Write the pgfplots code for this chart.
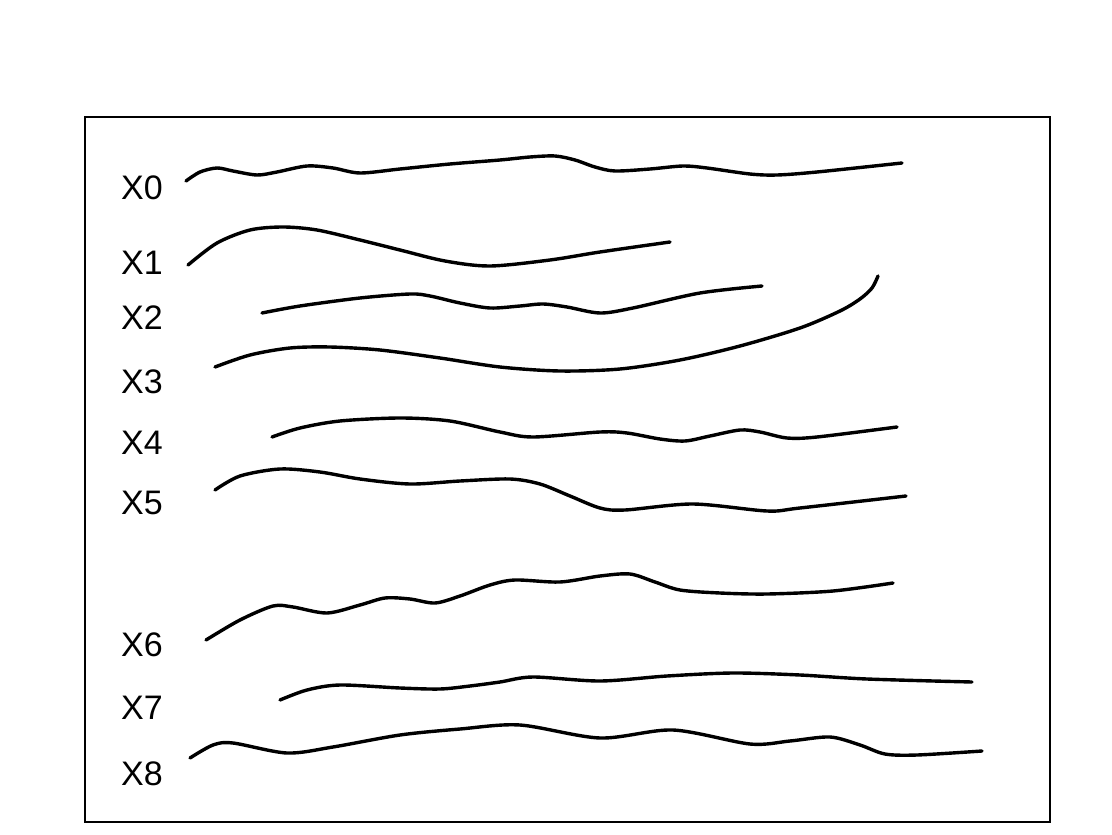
\documentclass[border=0pt]{standalone}
\usepackage{pgfplots}
\pgfplotsset{compat=1.18}
\usepackage{fontspec}
\setmainfont{Liberation Sans}
\tikzset{lab/.style={font=\fontsize{17}{20}\selectfont, anchor=center},
  curve/.style={black, solid, line width=1.7pt, smooth, mark=none, line cap=round}}
\begin{document}
\begin{tikzpicture}
\begin{axis}[
  scale only axis, width=482.5pt, height=352.5pt,
  xmin=85, xmax=1050, ymin=117, ymax=822, y dir=reverse,
  xtick=\empty, ytick=\empty, axis line style={line width=0.9pt},
  clip=false,
]
\path[use as bounding box] (axis cs:0,0) rectangle (axis cs:1112,834);
% X0
\addplot[curve] coordinates {(186,181) (200,172) (217,168) (233,171) (257,175) (277,172) (307,166) (333,168) (360,173) (400,169) (450,164) (500,160) (530,157) (555,156) (575,160) (595,167) (615,171) (650,169) (683,166) (707,168) (750,174) (777,175) (817,172) (902,163)};
% X1
\addplot[curve] coordinates {(188,265) (217,243) (250,230) (283,227) (317,230) (360,240) (400,250) (445,261) (490,266) (550,260) (600,252) (670,242)};
% X2
\addplot[curve] coordinates {(262,313) (300,306) (360,298) (410,294) (430,296) (460,303) (490,308) (520,306) (543,304) (567,307) (600,313) (633,308) (700,293) (762,286)};
% X3
\addplot[curve] coordinates {(215,367) (250,355) (290,348) (330,347) (380,350) (440,358) (500,367) (560,371) (620,369) (680,360) (740,346) (800,328) (840,311) (860,299) (872,288) (878,276)};
% X4
\addplot[curve] coordinates {(272,437) (300,428) (340,421) (400,418) (450,421) (500,432) (533,437) (600,432) (627,433) (660,439) (685,441) (710,436) (740,430) (760,432) (787,438) (817,437) (897,427)};
% X5
\addplot[curve] coordinates {(215,490) (240,476) (280,469) (320,472) (360,479) (410,484) (460,481) (510,479) (540,484) (570,496) (600,508) (625,510) (693,504) (767,511) (800,508) (906,496)};
% X6
\addplot[curve] coordinates {(206,640) (240,620) (273,606) (293,607) (327,613) (360,605) (385,598) (410,599) (435,603) (460,596) (490,585) (515,580) (560,582) (600,576) (630,574) (655,582) (680,590) (720,593) (767,594) (833,591) (893,583)};
% X7
\addplot[curve] coordinates {(280,700) (307,690) (340,685) (400,688) (440,689) (470,686) (500,682) (533,677) (600,681) (667,676) (733,673) (800,675) (867,679) (972,682)};
% X8
\addplot[curve] coordinates {(190,758) (213,745) (233,743) (287,753) (333,747) (400,735) (460,729) (520,725) (600,738) (673,730) (750,744) (790,741) (830,737) (860,745) (885,754) (917,755) (982,751)};
\node[lab] at (axis cs:142,188) {X0};
\node[lab] at (axis cs:142,263) {X1};
\node[lab] at (axis cs:142,318) {X2};
\node[lab] at (axis cs:142,382) {X3};
\node[lab] at (axis cs:142,443) {X4};
\node[lab] at (axis cs:142,503) {X5};
\node[lab] at (axis cs:142,645) {X6};
\node[lab] at (axis cs:142,708) {X7};
\node[lab] at (axis cs:142,774) {X8};
\end{axis}
\end{tikzpicture}
\end{document}
